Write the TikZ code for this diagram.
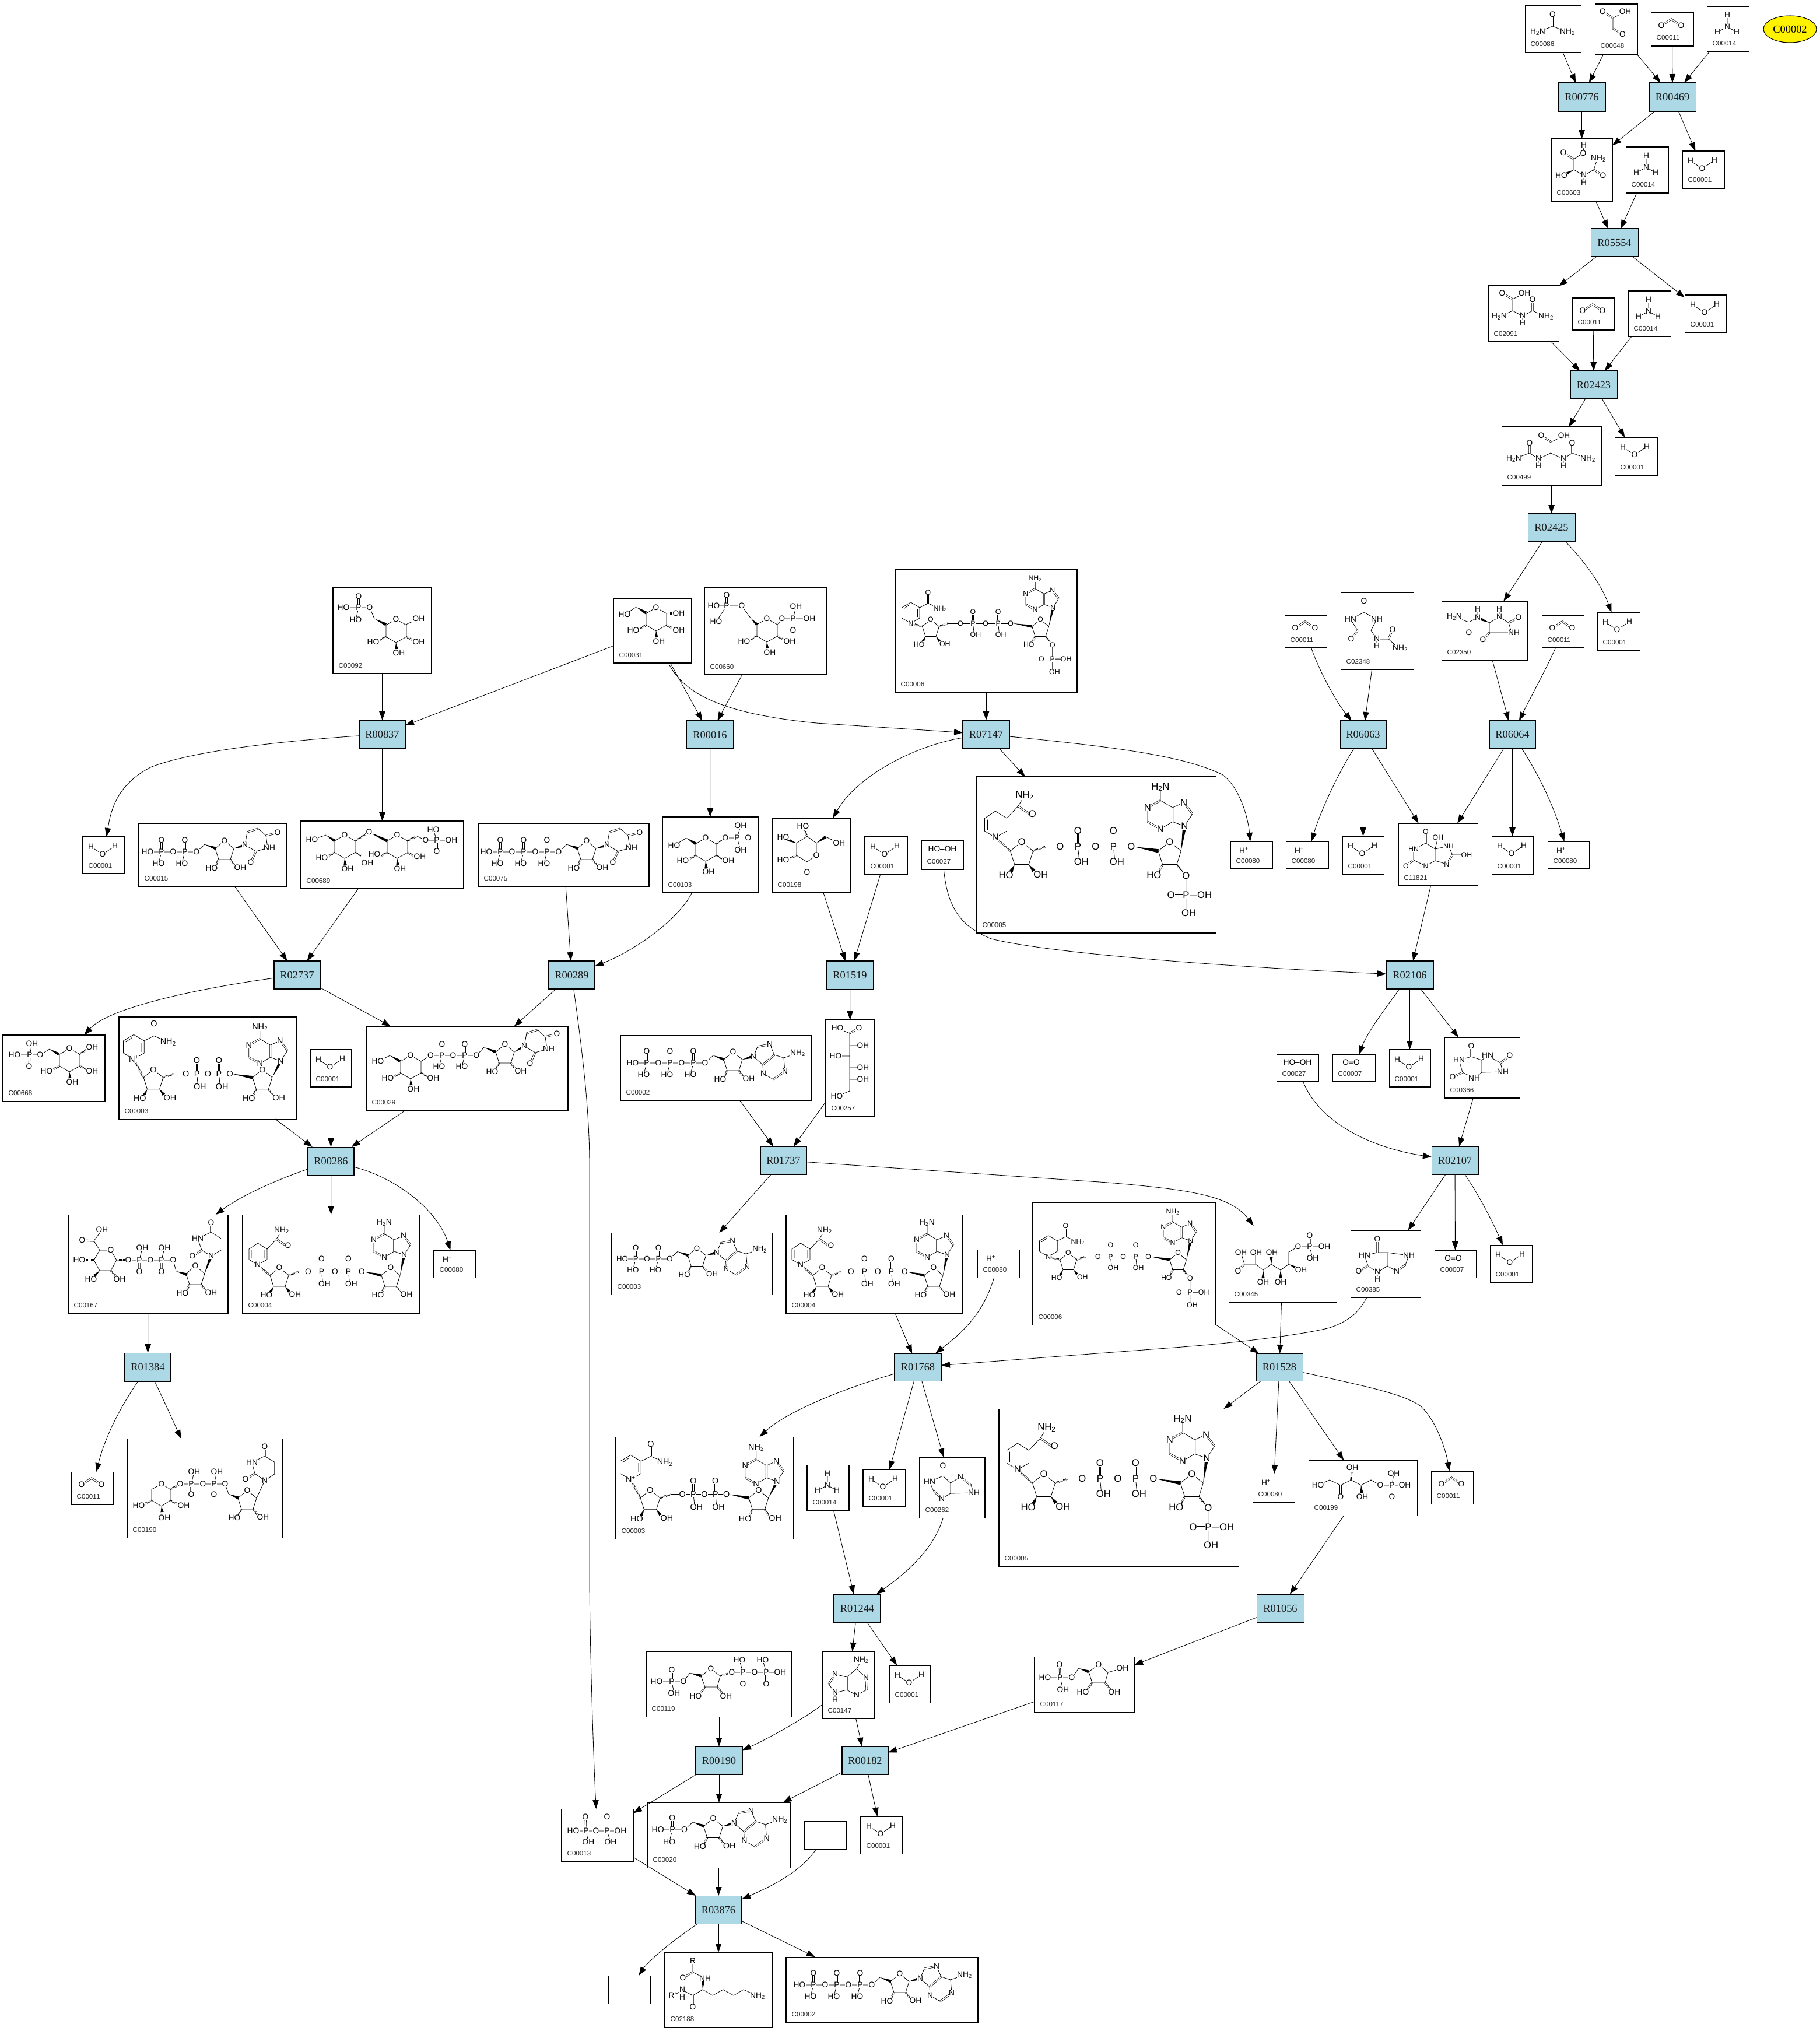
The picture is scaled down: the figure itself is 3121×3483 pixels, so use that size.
\documentclass[tikz,border=0pt]{standalone}
\usepackage{fontspec}
\setmainfont{Liberation Sans}
\newfontfamily\rfont{Liberation Serif}
\usetikzlibrary{arrows.meta,calc,shapes.geometric}
\definecolor{rxnblue}{RGB}{173,216,230}
\tikzset{
 cbox/.style={draw=black,fill=white,line width=1.05pt,rectangle,inner sep=0pt,outer sep=0pt},
 rbox/.style={cbox,fill=rxnblue,font=\rfont\fontsize{18.4}{18.4}\selectfont,text=black!90},
 cid/.style={anchor=west,inner sep=0pt,font=\fontsize{11.6}{11.6}\selectfont,text=black!85},
 conn/.style={line width=.85pt,-{Triangle[length=15pt,width=10.5pt]}},
 atom/.style={inner sep=.3pt,fill=white,font=\molfont,anchor=center},
 bd/.style={line width=.8pt},
 db/.style={line width=.7pt,double,double distance=1.7pt},
 hashb/.style={line width=3.2pt,dash pattern=on .8pt off 1.3pt}
}
\newcounter{atomc}
\def\molfont{\fontsize{13.7}{13.7}\selectfont}
\def\At(#1,#2)#3{\stepcounter{atomc}\node[atom] (at\theatomc) at (#1,#2) {#3};}
\def\Wd(#1)(#2){\fill (#1) -- ($(#2)!2.6pt!90:(#1)$) -- ($(#2)!2.6pt!-90:(#1)$) -- cycle;}
\def\Hs(#1)(#2){\draw[hashb] (#1)--(#2);}
\newcommand\Mol[3]{\begin{scope}[shift={(#1,#2)},scale=#3]\pgfmathsetmacro\mfs{13.7*#3}\def\molfont{\fontsize{\mfs}{\mfs}\selectfont}}
\newcommand\EMol{\end{scope}}
\newcommand\Cpd[6]{\pgfmathsetmacro\cw{#4-#2}\pgfmathsetmacro\ch{#5-#3}%
 \node[cbox,minimum width=\cw pt,minimum height=\ch pt] (#1) at ({(#2+#4)/2},{(#3+#5)/2}) {};%
 \node[cid] (#1id) at (#2+9.5,#5-14) {#6};}
\newcommand\Blank[5]{\pgfmathsetmacro\cw{#4-#2}\pgfmathsetmacro\ch{#5-#3}%
 \node[cbox,minimum width=\cw pt,minimum height=\ch pt] (#1) at ({(#2+#4)/2},{(#3+#5)/2}) {};}
\newcommand\Rxn[5]{\pgfmathsetmacro\cw{#4-#2}\pgfmathsetmacro\ch{#5-#3}%
 \node[rbox,minimum width=\cw pt,minimum height=\ch pt] (#1) at ({(#2+#4)/2},{(#3+#5)/2}) {#1};}
\newcommand\Eg[2]{\draw[conn] (#1) -- (#2);}
\newcommand\Cg[4]{\draw[conn] (#1) .. controls (#2) and (#3) .. (#4);}
% small molecules, given by the top left corner of the box
\newcommand\Wat[2]{\Mol{#1}{#2}{1}\draw[bd] (14,17)--(34,30)--(55,16);\At(14,17){H}\At(34,30){O}\At(55,16){H}\EMol}
\newcommand\Amm[2]{\Mol{#1}{#2}{1}\draw[bd] (35,15)--(35,35)--(18,44) (35,35)--(51,44);\At(35,15){H}\At(35,35){N}\At(18,44){H}\At(51,44){H}\EMol}
\newcommand\Cot[2]{\Mol{#1}{#2}{1}\draw[db] (18,22)--(35,11)--(52,22);\At(18,22){O}\At(52,22){O}\EMol}
\newcommand\Hpl[2]{\Mol{#1}{#2}{1}\At(23,15){H\textsuperscript{+}}\EMol}
\newcommand\Otwo[2]{\Mol{#1}{#2}{1}\At(32,14){O=O}\EMol}
\newcommand\Perox[2]{\Mol{#1}{#2}{1}\At(36,14){HO–OH}\EMol}
% fragments
\newcommand\Rib[4]{\begin{scope}[shift={(#1,#2)}]
 \draw[bd] (0,-16)--(16,-3)--(10,16)--(-10,16)--(-16,-3)--cycle;
 \if#3H\Hs(-10,16)(-15,26)\Hs(10,16)(17,25)\else\Wd(-10,16)(-15,26)\Wd(10,16)(17,25)\fi
 \At(0,-16){O}\At(-22,31){HO}
 \ifx\relax#4\relax\else\At(27,30){#4}\fi
 \end{scope}}
\newcommand\AdeA[2]{\begin{scope}[shift={(#1,#2)}]
 \draw[bd] (0,0)--(7,-17) (28,-21)--(36,-3) (16,14)--(0,0) (36,-3)--(52,2)--(54,25) (34,39)--(17,29)--(16,14) (52,2)--(76,-6);
 \draw[db] (7,-17)--(28,-21) (36,-3)--(16,14) (54,25)--(34,39);
 \At(0,0){N}\At(28,-21){N}\At(17,29){N}\At(54,25){N}\At(76,-6){NH\textsubscript{2}}
 \end{scope}}
\newcommand\AdeB[3]{\begin{scope}[shift={(#1,#2)}]
 \draw[bd] (0,0)--(11,-17) (-1,-33)--(-17,-26) (-17,-6)--(0,0) (-17,-6)--(-34,4) (-52,-6)--(-52,-26) (-34,-36)--(-17,-26) (-34,-36)--(-34,-55);
 \draw[db] (11,-17)--(-1,-33) (-17,-26)--(-17,-6) (-34,4)--(-52,-6) (-52,-26)--(-34,-36);
 \At(0,0){N}\At(-1,-33){N}\At(-34,4){N}\At(-52,-26){N}\At(-34,-55){#3}
 \end{scope}}
\newcommand\UraA[2]{\begin{scope}[shift={(#1,#2)}]
 \draw[bd] (0,0)--(4,-22) (23,-28)--(36,-16)--(39,5)--(19,11)--(0,0);
 \draw[db] (4,-22)--(23,-28) (36,-16)--(56,-21) (19,11)--(10,30);
 \At(0,0){N}\At(56,-21){O}\At(42,5){NH}\At(10,30){O}
 \end{scope}}
\newcommand\NicP{\draw[bd] (0,0)--(17,-10)--(17,-30)--(0,-40)--(-17,-30)--(-17,-10)--cycle (17,-30)--(33,-38)--(56,-28) (13,-12)--(13,-27) (-13,-28)--(-3,-35);
 \draw[db] (33,-38)--(33,-58);
 \At(0,0){\Nlab}\At(33,-58){O}\At(56,-28){NH\textsubscript{2}}}
\newcommand\NicH{\draw[bd] (0,0)--(16,-9)--(16,-27)--(0,-37)--(-15,-27)--(-15,-9)--cycle (16,-27)--(32,-44)--(40,-57) (12,-25)--(12,-11) (-11,-25)--(-11,-11);
 \draw[db] (32,-44)--(48,-33);
 \At(0,0){N}\At(41,-59){NH\textsubscript{2}}\At(52,-33){O}}
% NAD-like molecule: cx cy s rx step nictype nx ny phos
\newcommand\NadSet[4]{\def\AX{#1}\def\AY{#2}\def\Alab{#3}\def\Nlab{#4}}
\newcommand\Dinuc[9]{\Mol{#1}{#2}{#3}
 \pgfmathsetmacro\mA{#4/2}\pgfmathsetmacro\oA{\mA-2*#5}\pgfmathsetmacro\pA{\mA-#5}\pgfmathsetmacro\pB{\mA+#5}\pgfmathsetmacro\oC{\mA+2*#5}
 \pgfmathsetmacro\rL{#4-16}\pgfmathsetmacro\rR{#4+16}\pgfmathsetmacro\nX{#4+\AX}
 \Hs(16,-3)(33,-9)
 \draw[bd] (33,-9)--(\oC,-9);
 \Wd(\oC+4,-9)(\rL,-3)
 \Wd(\rR,-3)(\nX,\AY)
 \Hs(-16,-3)(#7,#8)
 \draw[db] (\pA,-9)--(\pA,-31) (\pB,-9)--(\pB,-31);
 \draw[bd] (\pA,-9)--(\pA+2,11) (\pB,-9)--(\pB+2,11);
 \ifnum#9=1 \draw[bd] (#4+10,16)--(#4+23,32)--(#4+23,84) (#4+23,59)--(#4+49,59); \draw[db] (#4+23,59)--(#4+2,59);\fi
 \At(\oA,-9){O}\At(\pA,-9){P}\At(\pA,-31){O}\At(\pA+5,12){OH}\At(\mA,-9){O}\At(\pB,-9){P}\At(\pB,-31){O}\At(\pB+5,12){OH}\At(\oC,-9){O}
 \Rib{0}{0}{W}{OH}
 \ifnum#9=1 \Rib{#4}{0}{H}{}\At(#4+23,32){O}\At(#4+23,59){P}\At(#4+2,59){O}\At(#4+49,59){OH}\At(#4+27,84){OH}\else\Rib{#4}{0}{H}{OH}\fi
 \AdeB{\nX}{\AY}{\Alab}
 \begin{scope}[shift={(#7,#8)}]\csname Nic#6\endcsname\end{scope}
 \EMol}
% nucleotide: cx cy s n base
\newcommand\NucA[5]{\Mol{#1}{#2}{#3}
 \pgfmathsetmacro\cEnd{-48-40*#4}
 \draw[bd] (-48,3)--(-34,-10) (-48,3)--(\cEnd,3);
 \Wd(-34,-10)(-15,-3)
 \foreach \i in {1,...,#4}{\pgfmathsetmacro\px{-48-20*(2*\i-1)}
  \draw[db] (\px,3)--(\px,-17);\draw[bd] (\px,3)--(\px-5,22);
  \At(\px,3){P}\At(\px,-17){O}\At(\px-5,23){HO}\At(\px+20,3){O}
  \ifnum\i=#4 \At(\px-24,3){HO}\fi}
 \Wd(16,-3)(33,-8)
 \Rib{0}{0}{H}{OH}
 \if#5a\AdeA{35}{-8}\else\UraA{35}{-9}\fi
 \EMol}
\newcommand\PyrX[4]{\begin{scope}[shift={(#1,#2)}]
 \draw[bd] (0,-20)--(18,-10)--(18,10)--(0,20)--(-17,10)--(-17,-10)--cycle;
 \Hs(-17,10)(-28,16)\Wd(0,20)(1,31)\Hs(18,10)(29,16)
 \At(-39,#3){HO}\At(5,38){OH}\At(39,#4){OH}\At(0,-20){O}
 \end{scope}}
\newcommand\Pyr[2]{\PyrX{#1}{#2}{19}{19}}
\begin{document}
\begin{tikzpicture}[x=1pt,y=-1pt]
\useasboundingbox (0,0) rectangle (3121,3483);
% ---------- compounds ----------
\Cpd{c86}{2615}{10}{2711}{90}{C00086}
\Cpd{c48}{2735}{7}{2808}{93}{C00048}
\Cpd{c11a}{2831}{22}{2904}{79}{C00011}
\Cpd{c14a}{2927}{11}{2999}{89}{C00014}
\node[draw=black,line width=1.05pt,fill=yellow,ellipse,minimum width=91pt,minimum height=46pt,inner sep=0pt,font=\rfont\fontsize{18.4}{18.4}\selectfont] (c2top) at (3069.5,50) {C00002};
\Cpd{c603}{2660}{238}{2765}{345}{C00603}
\Cpd{c14b}{2788}{252}{2861}{331}{C00014}
\Cpd{c1a}{2885}{259}{2957}{323}{C00001}
\Cpd{c2091}{2552}{490}{2673}{586}{C02091}
\Cpd{c11b}{2696}{511}{2768}{566}{C00011}
\Cpd{c14c}{2792}{499}{2865}{577}{C00014}
\Cpd{c1b}{2889}{506}{2960}{570}{C00001}
\Cpd{c499}{2575}{732}{2746}{832}{C00499}
\Cpd{c1c}{2769}{750}{2842}{815}{C00001}
\Cpd{c2350}{2472}{1031}{2619}{1132}{C02350}
\Cpd{c11c}{2644}{1055}{2716}{1111}{C00011}
\Cpd{c1d}{2739}{1050}{2812}{1115}{C00001}
\Cpd{c11d}{2203}{1055}{2275}{1111}{C00011}
\Cpd{c2348}{2299}{1016}{2424}{1148}{C02348}
\Cpd{c80a}{2110}{1443}{2182}{1490}{C00080}
\Cpd{c80b}{2205}{1443}{2278}{1490}{C00080}
\Cpd{c1e}{2302}{1434}{2373}{1499}{C00001}
\Cpd{c11821}{2398}{1412}{2534}{1519}{C11821}
\Cpd{c1f}{2558}{1434}{2629}{1499}{C00001}
\Cpd{c80c}{2654}{1443}{2725}{1490}{C00080}
\Cpd{c6a}{1535}{976}{1847}{1187}{C00006}
\Cpd{c5a}{1675}{1332}{2085}{1600}{C00005}
\Cpd{c1g}{1483}{1435}{1556}{1499}{C00001}
\Cpd{c27a}{1580}{1442}{1652}{1491}{C00027}
\Cpd{c92}{571}{1008}{740}{1155}{C00092}
\Cpd{c31}{1052}{1027}{1186}{1137}{C00031}
\Cpd{c660}{1208}{1008}{1417}{1157}{C00660}
\Cpd{c1h}{142}{1435}{213}{1498}{C00001}
\Cpd{c15}{238}{1412}{491}{1520}{C00015}
\Cpd{c689}{516}{1408}{795}{1524}{C00689}
\Cpd{c75}{820}{1412}{1113}{1520}{C00075}
\Cpd{c103}{1136}{1401}{1300}{1531}{C00103}
\Cpd{c198}{1324}{1403}{1459}{1531}{C00198}
\Cpd{c668}{5}{1775}{180}{1888}{C00668}
\Cpd{c3a}{204}{1744}{508}{1919}{C00003}
\Cpd{c1i}{532}{1800}{603}{1864}{C00001}
\Cpd{c29}{628}{1760}{974}{1904}{C00029}
\Cpd{c167}{117}{2083}{391}{2252}{C00167}
\Cpd{c4a}{416}{2083}{720}{2252}{C00004}
\Cpd{c80d}{744}{2144}{816}{2191}{C00080}
\Cpd{c11e}{122}{2524}{194}{2580}{C00011}
\Cpd{c190}{218}{2467}{484}{2637}{C00190}
\Cpd{c2a}{1064}{1776}{1392}{1887}{C00002}
\Cpd{c257}{1416}{1749}{1500}{1914}{C00257}
\Cpd{c3b}{1049}{2114}{1324}{2220}{C00003}
\Cpd{c4b}{1348}{2083}{1651}{2252}{C00004}
\Cpd{c80e}{1676}{2143}{1748}{2191}{C00080}
\Cpd{c6b}{1771}{2062}{2084}{2272}{C00006}
\Cpd{c345}{2107}{2102}{2292}{2233}{C00345}
\Cpd{c3c}{1056}{2464}{1361}{2639}{C00003}
\Cpd{c14d}{1384}{2512}{1456}{2590}{C00014}
\Cpd{c1j}{1480}{2520}{1553}{2583}{C00001}
\Cpd{c262}{1577}{2499}{1689}{2603}{C00262}
\Cpd{c5b}{1713}{2416}{2124}{2686}{C00005}
\Cpd{c27b}{2189}{1808}{2261}{1855}{C00027}
\Cpd{c7a}{2285}{1808}{2358}{1855}{C00007}
\Cpd{c1k}{2382}{1800}{2453}{1864}{C00001}
\Cpd{c366}{2477}{1779}{2606}{1883}{C00366}
\Cpd{c385}{2316}{2110}{2436}{2225}{C00385}
\Cpd{c7b}{2460}{2144}{2531}{2191}{C00007}
\Cpd{c1l}{2555}{2135}{2627}{2199}{C00001}
\Cpd{c80f}{2148}{2527}{2220}{2576}{C00080}
\Cpd{c199}{2244}{2504}{2430}{2599}{C00199}
\Cpd{c11f}{2454}{2523}{2526}{2579}{C00011}
\Cpd{c117}{1774}{2841}{1945}{2936}{C00117}
\Cpd{c119}{1108}{2832}{1358}{2944}{C00119}
\Cpd{c147}{1410}{2832}{1500}{2947}{C00147}
\Cpd{c1m}{1525}{2856}{1596}{2920}{C00001}
\Cpd{c13}{963}{3102}{1086}{3192}{C00013}
\Cpd{c20}{1110}{3091}{1356}{3203}{C00020}
\Blank{bl1}{1380}{3123}{1452}{3171}
\Cpd{c1n}{1476}{3115}{1547}{3179}{C00001}
\Blank{bl2}{1044}{3388}{1116}{3436}
\Cpd{c2188}{1140}{3348}{1324}{3476}{C02188}
\Cpd{c2b}{1348}{3356}{1677}{3468}{C00002}
% ---------- reactions ----------
\Rxn{R00776}{2672}{142}{2753}{191}
\Rxn{R00469}{2828}{142}{2908}{191}
\Rxn{R05554}{2728}{392}{2809}{440}
\Rxn{R02423}{2693}{636}{2773}{684}
\Rxn{R02425}{2620}{881}{2701}{928}
\Rxn{R06063}{2298}{1236}{2377}{1283}
\Rxn{R06064}{2554}{1236}{2633}{1283}
\Rxn{R02106}{2377}{1648}{2458}{1696}
\Rxn{R07147}{1651}{1235}{1731}{1283}
\Rxn{R00837}{616}{1235}{695}{1283}
\Rxn{R00016}{1177}{1236}{1258}{1284}
\Rxn{R02737}{470}{1648}{549}{1696}
\Rxn{R00289}{941}{1648}{1020}{1696}
\Rxn{R01519}{1417}{1648}{1498}{1697}
\Rxn{R00286}{528}{1967}{607}{2015}
\Rxn{R01737}{1304}{1966}{1383}{2014}
\Rxn{R02107}{2455}{1966}{2535}{2014}
\Rxn{R01384}{214}{2320}{293}{2369}
\Rxn{R01768}{1534}{2321}{1614}{2368}
\Rxn{R01528}{2154}{2321}{2234}{2368}
\Rxn{R01244}{1430}{2734}{1510}{2782}
\Rxn{R01056}{2155}{2734}{2236}{2782}
\Rxn{R00190}{1193}{2995}{1273}{3043}
\Rxn{R00182}{1444}{2995}{1523}{3043}
\Rxn{R03876}{1192}{3251}{1272}{3299}
% ---------- connectors ----------
\Eg{c86}{R00776}\Eg{c48}{R00776}\Eg{c48}{R00469}\Eg{c11a}{R00469}\Eg{c14a}{R00469}
\Eg{R00776}{c603}\Eg{R00469}{c603}\Eg{R00469}{c1a}\Eg{c603}{R05554}\Eg{c14b}{R05554}
\Eg{R05554}{c2091}\Eg{R05554}{c1b}\Eg{c2091}{R02423}\Eg{c11b}{R02423}\Eg{c14c}{R02423}
\Eg{R02423}{c499}\Eg{R02423}{c1c}\Eg{c499}{R02425}\Eg{R02425}{c2350}
\Cg{R02425}{2715,960}{2745,1000}{c1d}
\Eg{c2350}{R06064}\Cg{c11c}{2650,1150}{2625,1195}{R06064}
\Cg{c11d}{2262,1150}{2292,1205}{R06063}\Eg{c2348}{R06063}
\Cg{R06063}{2295,1325}{2265,1390}{c80b}\Eg{R06063}{c1e}\Eg{R06063}{c11821}
\Eg{R06064}{c11821}\Eg{R06064}{c1f}\Cg{R06064}{2640,1330}{2665,1385}{c80c}
\Eg{c11821}{R02106}
\draw[conn] (c27a) .. controls (1625,1560) and (1650,1590) .. (1700,1610) .. controls (1800,1635) and (2100,1658) .. (R02106);
\Cg{R02106}{2375,1730}{2345,1770}{c7a}\Eg{R02106}{c1k}\Eg{R02106}{c366}\Eg{c366}{R02107}
\Cg{c27b}{2265,1930}{2360,1970}{R02107}
\Eg{R02107}{c385}\Eg{R02107}{c7b}\Cg{R02107}{2530,2040}{2555,2085}{c1l}
\draw[conn] (c385) .. controls (2330,2250) and (2315,2265) .. (2280,2277) .. controls (2230,2290) and (2100,2305) .. (2000,2312) -- (R01768);
\Eg{c345}{R01528}\Eg{c6b}{R01528}\Eg{R01528}{c5b}\Eg{R01528}{c80f}\Eg{R01528}{c199}
\draw[conn] (R01528) .. controls (2330,2375) and (2410,2390) .. (2438,2413) .. controls (2465,2440) and (2480,2490) .. (c11f);
\Eg{c199}{R01056}\Eg{R01056}{c117}\Eg{c117}{R00182}
\draw[conn] (R01737) -- (1900,2028) .. controls (2040,2040) and (2110,2050) .. (c345);
\Eg{R01737}{c3b}\Eg{c2a}{R01737}\Eg{c257}{R01737}\Eg{R01519}{c257}\Eg{c198}{R01519}\Eg{c1g}{R01519}
\Cg{R07147}{1570,1278}{1470,1330}{c198}\Eg{c6a}{R07147}
\draw[conn] (c31) .. controls (1175,1195) and (1250,1225) .. (1400,1240) -- (R07147);
\Eg{R07147}{c5a}
\draw[conn] (R07147) .. controls (1900,1280) and (2030,1295) .. (2097,1329) .. controls (2125,1350) and (2140,1400) .. (c80a);
\Eg{c31}{R00016}\Eg{c660}{R00016}\Eg{R00016}{c103}
\Cg{c103}{1165,1575}{1090,1630}{R00289}\Eg{c75}{R00289}\Eg{R00289}{c29}
\draw[conn] (R00289) .. controls (998,1800) and (1011,1900) .. (1011,2000) -- (1011,2700) .. controls (1011,2800) and (1017,3000) .. (c13);
\Eg{c31}{R00837}\Eg{c92}{R00837}
\draw[conn] (R00837) .. controls (500,1270) and (340,1285) .. (260,1315) .. controls (200,1345) and (190,1390) .. (c1h);
\Eg{R00837}{c689}\Eg{c15}{R02737}\Eg{c689}{R02737}
\Cg{R02737}{360,1692}{190,1725}{c668}\Eg{R02737}{c29}
\Eg{c3a}{R00286}\Eg{c1i}{R00286}\Eg{c29}{R00286}
\Cg{R00286}{470,2025}{415,2050}{c167}\Eg{R00286}{c4a}\Cg{R00286}{680,2020}{750,2075}{c80d}
\Eg{c167}{R01384}\Cg{R01384}{205,2415}{180,2465}{c11e}\Cg{R01384}{285,2410}{305,2455}{c190}
\Eg{c4b}{R01768}\Cg{c80e}{1685,2255}{1650,2285}{R01768}
\Cg{R01768}{1450,2380}{1350,2420}{c3c}\Eg{R01768}{c1j}\Eg{R01768}{c262}
\Eg{c14d}{R01244}\Cg{c262}{1600,2660}{1550,2700}{R01244}\Eg{R01244}{c147}\Eg{R01244}{c1m}
\Eg{c119}{R00190}\Cg{c147}{1375,2950}{1310,2985}{R00190}\Eg{c147}{R00182}
\Eg{R00190}{c13}\Eg{R00190}{c20}\Eg{R00182}{c20}\Eg{R00182}{c1n}
\Eg{c13}{R03876}\Eg{c20}{R03876}\Cg{bl1}{1370,3215}{1310,3240}{R03876}
\Cg{R03876}{1150,3330}{1110,3365}{bl2}\Eg{R03876}{c2188}\Eg{R03876}{c2b}
% ---------- small molecules ----------
\Wat{2885}{259}\Wat{2889}{506}\Wat{2769}{750}\Wat{2739}{1050}\Wat{2302}{1434}\Wat{2558}{1434}\Wat{1483}{1435}\Wat{142}{1435}\Wat{532}{1800}\Wat{2382}{1800}\Wat{2555}{2135}\Wat{1480}{2520}\Wat{1525}{2856}\Wat{1476}{3115}
\Amm{2927}{11}\Amm{2788}{252}\Amm{2792}{499}\Amm{1384}{2512}
\Cot{2831}{22}\Cot{2696}{511}\Cot{2644}{1055}\Cot{2203}{1055}\Cot{122}{2524}\Cot{2454}{2523}
\Hpl{2110}{1443}\Hpl{2205}{1443}\Hpl{2654}{1443}\Hpl{744}{2144}\Hpl{1676}{2143}\Hpl{2148}{2527}
\Otwo{2285}{1808}\Otwo{2460}{2144}
\Perox{1580}{1442}\Perox{2189}{1808}
% urea
\Mol{2615}{10}{1}\draw[bd] (22,45)--(47.5,35)--(73,45);\draw[db] (47.5,35)--(47.5,15);\At(47.5,15){O}\At(22,45){H\textsubscript{2}N}\At(73,45){NH\textsubscript{2}}\EMol
% glyoxylate
\Mol{2735}{7}{1}\draw[bd] (52,13)--(31,24)--(31,42);\draw[db] (31,24)--(13.5,13) (31,42)--(47.5,52);\At(13.5,13){O}\At(52,13){OH}\At(47.5,52){O}\EMol
% C00603
\Mol{2660}{238}{1}\draw[bd] (56,13)--(55,24)--(39,35)--(39,53)--(56,63)--(73,53)--(79,35) (56,63)--(56,74);\draw[db] (39,35)--(21,24) (73,53)--(89,63);\Wd(39,53)(24,61)
\At(56,11){H}\At(55,25){O}\At(21,24){O}\At(17.5,63){HO}\At(56,62){N}\At(56,75){H}\At(81,34){NH\textsubscript{2}}\At(89,63){O}\EMol
% C02091
\Mol{2552}{490}{1}\draw[bd] (62,13)--(42,23)--(42,43)--(19,53) (42,43)--(59,52)--(76,43)--(99,53) (59,52)--(59,63);\draw[db] (42,23)--(24,13) (76,43)--(76,24);
\At(24,13){O}\At(62,13){OH}\At(76,24){O}\At(19,53){H\textsubscript{2}N}\At(59,51){N}\At(59,64){H}\At(99,53){NH\textsubscript{2}}\EMol
% C00499
\Mol{2575}{732}{1}\draw[bd] (85,26)--(107,15) (21,55)--(48,45)--(63,55)--(84,45)--(106,55)--(121,45)--(148,55) (63,55)--(63,66) (106,55)--(106,66);\draw[db] (85,26)--(68,15) (48,45)--(48,28) (121,45)--(121,28);
\At(68,15){O}\At(107,15){OH}\At(48,28){O}\At(121,28){O}\At(21,55){H\textsubscript{2}N}\At(63,54){N}\At(63,67){H}\At(106,54){N}\At(106,67){H}\At(148,55){NH\textsubscript{2}}\EMol
% C02350
\Mol{2472}{1031}{1}\draw[bd] (22,27)--(47,36)--(62,28)--(62,14) (82,37)--(99,27)--(115,37)--(120,54)--(82,54)--(82,37) (99,27)--(99,14);\draw[db] (47,36)--(47,54) (115,37)--(132,28) (82,54)--(71,66);\Wd(82,37)(66,30)
\At(22,27){H\textsubscript{2}N}\At(47,54){O}\At(62,28){N}\At(62,14){H}\At(99,27){N}\At(99,14){H}\At(132,28){O}\At(124,54){NH}\At(71,66){O}\EMol
% C02348
\Mol{2299}{1016}{1}\draw[bd] (17,46)--(40,34)--(62,46) (17,46)--(29,65) (62,46)--(52,65)--(62,80)--(82,80)--(100,96) (62,80)--(62,91);\draw[db] (40,34)--(40,15) (29,65)--(18,80) (82,80)--(89,64);
\At(40,15){O}\At(17,46){HN}\At(62,46){NH}\At(18,80){O}\At(62,79){N}\At(62,92){H}\At(89,64){O}\At(102,96){NH\textsubscript{2}}\EMol
% C11821
\Mol{2398}{1412}{.9}\begin{scope}[scale=1.11]\draw[bd] (47,34)--(26,44)--(26,63)--(47,73)--(63,64)--(63,44)--(47,34) (63,44)--(68,24) (63,44)--(86,39)--(93,54)--(117,54) (83,70)--(63,64);\draw[db] (47,34)--(47,14) (26,63)--(13,73) (93,54)--(83,70);
\At(47,14){O}\At(68,24){OH}\At(26,44){HN}\At(13,73){O}\At(47,73){N}\At(86,39){NH}\At(117,54){OH}\At(83,70){N}\end{scope}\EMol
% C00366
\Mol{2477}{1779}{1}\draw[bd] (46,33)--(25,39)--(31,60)--(51,70)--(64,60)--(64,39)--(46,33) (64,39)--(74,31)--(96,44)--(100,59)--(64,60);\draw[db] (46,33)--(46,15) (31,60)--(14,68) (96,44)--(112,31);
\At(46,15){O}\At(25,39){HN}\At(14,68){O}\At(51,70){NH}\At(74,31){HN}\At(112,31){O}\At(100,59){NH}\EMol
% C00385
\Mol{2316}{2110}{1}\draw[bd] (46,38)--(24,43)--(30,61)--(46,72)--(63,61)--(63,38)--(46,38) (63,38)--(100,43)--(94,59) (79,70)--(63,61) (46,72)--(46,81);\draw[db] (46,38)--(46,15) (30,61)--(14,70) (94,59)--(79,70);
\At(46,15){O}\At(24,43){HN}\At(14,70){O}\At(46,71){N}\At(46,84){H}\At(100,43){NH}\At(79,70){N}\EMol
% C00262
\Mol{1577}{2499}{1}\draw[bd] (40,32)--(17,42)--(24,58) (38,71)--(53,62)--(53,44)--(40,32) (53,44)--(70,34) (88,48)--(93,61)--(53,62);\draw[db] (40,32)--(40,15) (24,58)--(38,71) (70,34)--(88,48);
\At(40,15){O}\At(17,42){HN}\At(38,71){N}\At(70,34){N}\At(93,61){NH}\EMol
% C00147 adenine
\Mol{1410}{2832}{1}\draw[bd] (59,30)--(75,45) (76,66)--(59,75)--(42,66)--(22,71)--(11,56) (22,39)--(42,44)--(59,30) (59,30)--(67,15) (22,71)--(22,82);\draw[db] (42,44)--(42,66) (75,45)--(76,66) (11,56)--(22,39);
\At(67,15){NH\textsubscript{2}}\At(75,45){N}\At(59,75){N}\At(22,39){N}\At(22,70){N}\At(22,83){H}\EMol
% C00013
\Mol{963}{3102}{1}\draw[bd] (20,38)--(101,38) (42,38)--(46,57) (78,38)--(84,57);\draw[db] (42,38)--(41,14) (78,38)--(78,14);
\At(41,14){O}\At(78,14){O}\At(20,38){HO}\At(42,38){P}\At(59,38){O}\At(78,38){P}\At(101,38){OH}\At(46,57){OH}\At(84,57){OH}\EMol
% C02188
\Mol{1140}{3348}{1}\draw[bd] (48,15)--(48,34)--(69,45) (48,74)--(65,64)--(82,74)--(100,64)--(118,74)--(135,64)--(159,75) (48,74)--(30,65)--(15,74);\Wd(65,64)(66,47)\draw[db] (48,34)--(31,44) (48,74)--(48,94);
\At(48,15){R}\At(31,44){O}\At(69,45){NH}\At(48,94){O}\At(30,64){N}\At(30,77){H}\At(13,74){R'}\At(159,75){NH\textsubscript{2}}\EMol
% C00117 ribose phosphate
\Mol{1774}{2841}{1}\draw[bd] (18,36)--(64,36)--(76,20) (44,36)--(49,57) (93,26)--(110,14)--(126,27)--(121,45)--(99,45)--(93,26) (126,27)--(151,20);\draw[db] (44,36)--(43,14);\Wd(76,20)(93,26)\Hs(99,45)(91,55)\Hs(121,45)(130,55)
\At(18,36){HO}\At(44,36){P}\At(43,14){O}\At(49,57){OH}\At(64,36){O}\At(110,14){O}\At(151,20){OH}\At(83,61){HO}\At(137,61){OH}\EMol
% C00119 PRPP
\Mol{1108}{2832}{1}\draw[bd] (18,52)--(64,52)--(75,37) (44,52)--(48,72) (94,42)--(111,30)--(127,42)--(122,61)--(101,61)--(94,42) (147,36)--(230,36) (166,36)--(160,15) (206,36)--(200,15);\draw[db] (44,52)--(44,32) (166,36)--(166,56) (206,36)--(206,56);\Wd(75,37)(94,42)\Hs(127,42)(147,36)\Hs(101,61)(93,72)\Hs(122,61)(131,72)
\At(18,52){HO}\At(44,52){P}\At(44,32){O}\At(48,72){OH}\At(64,52){O}\At(111,30){O}\At(85,77){HO}\At(137,77){OH}\At(147,36){O}\At(166,36){P}\At(160,15){HO}\At(166,56){O}\At(186,36){O}\At(206,36){P}\At(200,15){HO}\At(206,56){O}\At(230,36){OH}\EMol
% C00199
\Mol{2244}{2504}{1}\draw[bd] (16,43)--(36,34)--(55,43)--(73,34)--(90,43)--(107,34)--(123,43)--(165,43) (143,43)--(146,23);\draw[db] (55,43)--(55,63) (143,43)--(143,63);\Hs(73,34)(74,20)\Wd(90,43)(91,56)
\At(16,43){HO}\At(55,63){O}\At(75,13){OH}\At(92,63){OH}\At(123,43){O}\At(143,43){P}\At(146,23){OH}\At(165,43){OH}\At(143,63){O}\EMol
% C00257
\Mol{1416}{1749}{1}\draw[bd] (20,14)--(41,23)--(41,122)--(19,131) (41,44)--(64,44) (41,62)--(17,62) (41,82)--(64,82) (41,102)--(64,102);\draw[db] (41,23)--(57,14);
\At(20,14){HO}\At(57,14){O}\At(64,44){OH}\At(17,62){HO}\At(64,82){OH}\At(64,102){OH}\At(19,131){HO}\EMol
% C00198
\Mol{1324}{1403}{1}\draw[bd] (60,31)--(42,43)--(42,64)--(60,75)--(76,64)--(76,43)--(60,31) (92,32)--(115,43);\draw[db] (60,75)--(60,93);\Hs(60,31)(55,20)\Wd(42,43)(27,37)\Hs(42,64)(28,70)\Wd(76,43)(92,32)
\At(53,14){HO}\At(19,33){HO}\At(19,72){HO}\At(60,93){O}\At(76,64){O}\At(115,43){OH}\EMol
% C00103
\Mol{1136}{1401}{1}\draw[bd] (41,36)--(20,49) (108,36)--(128,36)--(134,15) (128,36)--(134,57);\draw[db] (128,36)--(147,36);\Wd(41,36)(57,46)\Hs(92,46)(108,36)
\Pyr{74}{56}\At(20,49){HO}\At(108,36){O}\At(128,36){P}\At(134,15){OH}\At(147,36){O}\At(134,57){OH}\EMol
% C00031
\Mol{1052}{1027}{1}\draw[bd] (39,14)--(19,27);\Wd(39,14)(56,24)\Hs(91,25)(114,25)
\Pyr{73}{35}\At(19,27){HO}\At(112,25){OH}\EMol
% C00092
\Mol{571}{1008}{1}\draw[bd] (18,34)--(63,34)--(71,53) (44,34)--(39,55);\draw[db] (44,34)--(44,15);\Wd(71,53)(91,63)\draw[bd] (125,63)--(147,53);
\Pyr{108}{74}\At(44,15){O}\At(18,34){HO}\At(44,34){P}\At(63,34){O}\At(39,55){HO}\At(147,53){OH}\EMol
% C00660
\Mol{1208}{1008}{1}\draw[bd] (16,31)--(64,31)--(80,53) (38,31)--(20,58) (133,53)--(180,53) (152,53)--(157,32);\draw[db] (38,31)--(38,13) (152,53)--(152,73);\Wd(80,53)(90,63)\Hs(125,63)(133,53)
\Pyr{107}{73}\At(38,13){O}\At(16,31){HO}\At(38,31){P}\At(64,31){O}\At(20,58){HO}\At(133,53){O}\At(152,53){P}\At(157,32){OH}\At(180,53){OH}\At(152,73){O}\EMol
% C00668
\Mol{5}{1775}{1}\draw[bd] (50,15)--(46,34) (20,34)--(64,34)--(80,24);\draw[db] (46,34)--(45,54);\Wd(80,24)(96,33)\Hs(131,33)(143,25)
\Pyr{114}{43}\At(50,15){OH}\At(20,34){HO}\At(46,34){P}\At(45,54){O}\At(64,34){O}\At(153,21){OH}\EMol
% C00689
\Mol{516}{1408}{1}\draw[bd] (43,24)--(19,32) (199,26)--(214,33)--(258,33) (233,33)--(227,15);\draw[db] (233,33)--(233,52);\Wd(43,24)(58,34)\Hs(93,34)(117,19)\Wd(117,19)(148,34)\Hs(182,34)(199,26)
\PyrX{75}{44}{19}{28}\PyrX{165}{44}{13}{17}\At(19,32){HO}\At(117,19){O}\At(214,33){O}\At(233,33){P}\At(227,15){HO}\At(258,33){OH}\At(233,52){O}\EMol
% C00029
\Mol{628}{1760}{1}\draw[bd] (41,50)--(20,60) (94,60)--(110,50)--(189,50)--(202,36) (130,50)--(125,69) (169,50)--(164,69);\draw[db] (130,50)--(130,31) (169,50)--(169,31);\Wd(41,50)(58,60)\Wd(202,36)(222,44)\Wd(254,44)(271,34)
\Pyr{76}{70}\Rib{238}{47}{H}{OH}\UraA{271}{34}\At(20,60){HO}\At(110.5,50){O}\At(130,50){P}\At(130,31){O}\At(125,69){HO}\At(149,50){O}\At(169,50){P}\At(169,31){O}\At(164,69){HO}\At(189,50){O}\EMol
% C00167
\Mol{117}{2083}{1}\draw[bd] (58,26)--(44,45)--(54,61)--(73,61)--(83,78)--(73,96)--(54,96)--(44,78)--(54,61) (83,78)--(180,78)--(185,97) (122,78)--(127,57) (160,78)--(165,57) (245,71)--(229,61)--(222,41)--(245,30)--(262,41) (262,61)--(245,71);\draw[db] (44,45)--(24,44) (122,78)--(122,98) (160,78)--(160,98) (229,61)--(213,71) (245,30)--(245,14) (262,41)--(262,61);\Wd(185,97)(204,103)\Wd(233,103)(245,71)\Hs(44,78)(30,78)\Wd(54,96)(45,105)\Hs(73,96)(82,105)\Hs(83,78)(103,78)
\Rib{218}{104}{H}{OH}\At(58,26){OH}\At(24,44){O}\At(73,61){O}\At(19,78){HO}\At(39,111){HO}\At(88,111){OH}\At(103,78){O}\At(122,78){P}\At(127,57){OH}\At(122,98){O}\At(141,78){O}\At(160,78){P}\At(165,57){OH}\At(160,98){O}\At(180,78){O}\At(245,71){N}\At(213,71){O}\At(222,41){HN}\At(245,14){O}\EMol
% C00190
\Mol{218}{2467}{1}\draw[bd] (59,78)--(74,87)--(74,106)--(59,116)--(42,106)--(42,87)--(59,78) (91,78)--(168,78)--(174,95) (110,78)--(115,57) (149,78)--(154,57) (236,72)--(219,60)--(214,41)--(236,30)--(254,41) (254,60)--(236,72);\draw[db] (110,78)--(110,96) (149,78)--(149,96) (219,60)--(203,70) (236,30)--(236,14) (254,41)--(254,60);\Wd(174,95)(191,102)\draw[bd] (222,102)--(236,72);\Hs(42,106)(30,112)\Wd(59,116)(60,126)\Hs(74,106)(86,112)\Hs(74,87)(91,78)
\Rib{206}{105}{H}{OH}\At(59,78){O}\At(20,115){HO}\At(64,136){OH}\At(97,115){OH}\At(91,78){O}\At(110,78){P}\At(115,57){OH}\At(110,96){O}\At(130,78){O}\At(149,78){P}\At(154,57){OH}\At(149,96){O}\At(168,78){O}\At(236,72){N}\At(203,70){O}\At(214,41){HN}\At(236,14){O}\EMol
% C00345
\Mol{2107}{2102}{1}\draw[bd] (21,46)--(27,66)--(46,66)--(59,76)--(73,66)--(89,76)--(103,66)--(103,45)--(119,36)--(164,36) (139,36)--(144,56) (46,66)--(46,46);\draw[db] (27,66)--(16,76) (139,36)--(139,17);\Wd(59,76)(59,90)\Wd(73,66)(73,53)\Wd(89,76)(89,90)\Wd(103,66)(117,73)
\At(21,46){OH}\At(16,78){O}\At(47,46){OH}\At(59,97){OH}\At(74,46){OH}\At(89,97){OH}\At(124,76){OH}\At(119,36){O}\At(139,36){P}\At(139,17){O}\At(164,36){OH}\At(144,56){OH}\EMol
% nucleotides
\NucA{1257}{1820}{1}{3}{a}
\NucA{1543}{3401}{1}{3}{a}
\NucA{1195}{2156}{.97}{2}{a}
\NucA{1223}{3135}{1.03}{1}{a}
\NucA{385}{1458}{1}{2}{u}
\NucA{1006}{1458}{1}{3}{u}
% NAD family
\def\Nlab{N\textsuperscript{+}}
\NadSet{30}{-30}{NH\textsubscript{2}}{N\textsuperscript{+}}
\Dinuc{263}{1851}{1.05}{178}{18}{P}{-32}{-33}{0}
\Dinuc{1115}{2572}{1.05}{177}{18}{P}{-32}{-33}{0}
\NadSet{23}{-38}{H\textsubscript{2}N}{N}
\Dinuc{479}{2190}{1}{191}{23}{H}{-37}{-21}{0}
\Dinuc{1410}{2190}{1}{191}{23}{H}{-37}{-21}{0}
\NadSet{21}{-38}{H\textsubscript{2}N}{N}
\Dinuc{1752}{1463}{1.22}{208}{25}{H}{-37}{-22}{1}
\Dinuc{1790}{2547}{1.22}{208}{25}{H}{-37}{-22}{1}
\NadSet{24}{-39}{NH\textsubscript{2}}{N}
\Dinuc{1596}{1077}{.9}{209}{24}{P}{-38}{-9}{1}
\Dinuc{1832}{2163}{.9}{209}{24}{P}{-38}{-9}{1}
\end{tikzpicture}
\end{document}
